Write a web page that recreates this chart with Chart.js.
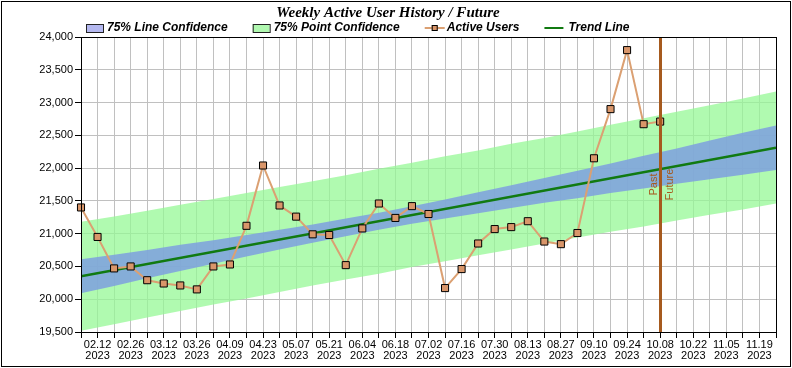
<!DOCTYPE html>
<html>
<head>
<meta charset="utf-8">
<title>Weekly Active User History / Future</title>
<script src="https://cdn.jsdelivr.net/npm/chart.js@4.4.1/dist/chart.umd.min.js"></script>
<style>
  body { margin: 0; background: #fff; }
  #wrap { width: 792px; height: 368px; }
</style>
</head>
<body>
<div id="wrap"><canvas id="usersChart" width="792" height="368"></canvas></div>
<script>
// Week start dates on the x axis (one grid line per week)
const weekDates = [
    '02.05', '02.12', '02.19', '02.26', '03.05', '03.12', '03.19', '03.26',
    '04.02', '04.09', '04.16', '04.23', '04.30', '05.07', '05.14', '05.21',
    '05.28', '06.04', '06.11', '06.18', '06.25', '07.02', '07.09', '07.16',
    '07.23', '07.30', '08.06', '08.13', '08.20', '08.27', '09.03', '09.10',
    '09.17', '09.24', '10.01', '10.08', '10.15', '10.22', '10.29', '11.05',
    '11.12', '11.19', '11.26'
];
const tickYear = '2023';

// Weekly active users (history, 02.05 .. 10.08)
const activeUsers = [
    21400, 20950, 20470, 20500, 20290, 20240, 20210, 20150, 20500, 20530,
    21120, 22040, 21430, 21260, 20990, 20980, 20520, 21080, 21460, 21240,
    21420, 21300, 20170, 20460, 20850, 21070, 21100, 21190, 20880, 20840,
    21010, 22150, 22900, 23800, 22670, 22710
];

// Past / Future divider sits on this week
const nowIndex = 35;

// Trend line end points
const trendWeeks = [0, 42];
const trendValues = [20350, 22310];

// Confidence bands, read every two weeks
const bandWeeks = [0, 2, 4, 6, 8, 10, 12, 14, 16, 18, 20, 22, 24, 26, 28, 30, 32, 34, 36, 38, 40, 42];
const lineConfHigh = [20610, 20680, 20750, 20830, 20900, 20980, 21060, 21140, 21230, 21320, 21420,
                      21520, 21630, 21740, 21850, 21960, 22070, 22190, 22300, 22420, 22540, 22650];
const lineConfLow = [20090, 20200, 20320, 20430, 20540, 20650, 20760, 20860, 20960, 21060, 21150,
                     21230, 21310, 21390, 21470, 21540, 21620, 21690, 21760, 21830, 21900, 21970];
const pointConfHigh = [21180, 21260, 21350, 21440, 21530, 21620, 21710, 21800, 21890, 21990, 22080,
                       22180, 22270, 22370, 22460, 22560, 22660, 22760, 22860, 22960, 23060, 23170];
const pointConfLow = [19520, 19620, 19720, 19820, 19920, 20010, 20110, 20210, 20300, 20390, 20490,
                      20580, 20670, 20760, 20850, 20940, 21030, 21110, 21200, 21290, 21370, 21460];

function toPoints(xs, ys) {
    return xs.map((x, i) => ({ x: x, y: ys[i] }));
}

const FONT = '"Liberation Sans", Arial, sans-serif';

// Legend drawn by hand so it can sit tight under the title
const legendItems = [
    { text: '75% Line Confidence', kind: 'box', fill: '#B4B8F0' },
    { text: '75% Point Confidence', kind: 'box', fill: '#B0F8B0' },
    { text: 'Active Users', kind: 'marker', line: '#DBA072', fill: '#D9966A' },
    { text: 'Trend Line', kind: 'line', line: '#117A11' }
];

const legendPlugin = {
    id: 'handLegend',
    afterDraw(chart) {
        const ctx = chart.ctx;
        let x = chart.chartArea.left + 5;
        const y = 28;
        ctx.save();
        ctx.font = 'italic bold 12px ' + FONT;
        ctx.textBaseline = 'middle';
        legendItems.forEach(item => {
            let w;
            if (item.kind === 'box') {
                ctx.fillStyle = item.fill;
                ctx.fillRect(x, y - 4, 17, 8);
                ctx.strokeStyle = '#222';
                ctx.lineWidth = 1;
                ctx.strokeRect(x + 0.5, y - 3.5, 17, 8);
                w = 21;
            } else if (item.kind === 'marker') {
                ctx.strokeStyle = item.line;
                ctx.lineWidth = 2;
                ctx.beginPath();
                ctx.moveTo(x, y);
                ctx.lineTo(x + 20, y);
                ctx.stroke();
                ctx.fillStyle = item.fill;
                ctx.fillRect(x + 7, y - 3, 6, 6);
                ctx.strokeStyle = '#000';
                ctx.lineWidth = 1;
                ctx.strokeRect(x + 7.5, y - 2.5, 5, 5);
                w = 22;
            } else {
                ctx.strokeStyle = item.line;
                ctx.lineWidth = 2;
                ctx.beginPath();
                ctx.moveTo(x, y);
                ctx.lineTo(x + 19, y);
                ctx.stroke();
                w = 24;
            }
            ctx.fillStyle = '#000';
            ctx.fillText(item.text, x + w, y);
            x += w + ctx.measureText(item.text).width + 25;
        });
        ctx.restore();
    }
};

// Vertical Past / Future marker and the frames
const dividerPlugin = {
    id: 'divider',
    afterDatasetsDraw(chart) {
        const ctx = chart.ctx;
        const area = chart.chartArea;
        const x = Math.round(chart.scales.x.getPixelForValue(nowIndex)) + 0.5;
        const midY = (area.top + area.bottom) / 2;
        ctx.save();
        ctx.strokeStyle = '#A65A1E';
        ctx.lineWidth = 3;
        ctx.beginPath();
        ctx.moveTo(x, area.top);
        ctx.lineTo(x, area.bottom);
        ctx.stroke();

        ctx.fillStyle = '#A65A1E';
        ctx.font = '11px ' + FONT;
        ctx.textAlign = 'center';
        ctx.textBaseline = 'middle';
        ctx.translate(x, midY);
        ctx.rotate(-Math.PI / 2);
        ctx.fillText('Past', 0, -7);
        ctx.fillText('Future', 0, 9);
        ctx.restore();
    },
    afterDraw(chart) {
        const ctx = chart.ctx;
        const a = chart.chartArea;
        ctx.save();
        ctx.strokeStyle = '#000';
        ctx.lineWidth = 1;
        ctx.strokeRect(Math.round(a.left) + 0.5, Math.round(a.top) + 0.5,
            Math.round(a.right - a.left), Math.round(a.bottom - a.top));
        ctx.strokeRect(1.5, 1.5, 789, 365);
        ctx.restore();
    }
};

document.addEventListener('DOMContentLoaded', () => {
    const ctx = document.getElementById('usersChart').getContext('2d');
    new Chart(ctx, {
        type: 'line',
        data: {
            datasets: [
                {
                    label: 'Active Users',
                    data: toPoints(activeUsers.map((v, i) => i), activeUsers),
                    borderColor: '#DBA072',
                    borderWidth: 2,
                    pointStyle: 'rect',
                    pointRadius: 5,
                    pointBackgroundColor: '#D9966A',
                    pointBorderColor: '#000',
                    pointBorderWidth: 1,
                    tension: 0,
                    clip: false,
                },
                {
                    label: 'Trend Line',
                    data: toPoints(trendWeeks, trendValues),
                    borderColor: '#117A11',
                    borderWidth: 2.5,
                    pointRadius: 0,
                },
                {
                    label: '75% Line Confidence',
                    data: toPoints(bandWeeks, lineConfHigh),
                    borderWidth: 0,
                    pointRadius: 0,
                    backgroundColor: 'rgba(124, 156, 226, 0.82)',
                    fill: '+1',
                },
                {
                    label: 'line low',
                    data: toPoints(bandWeeks, lineConfLow),
                    borderWidth: 0,
                    pointRadius: 0,
                    fill: false,
                },
                {
                    label: '75% Point Confidence',
                    data: toPoints(bandWeeks, pointConfHigh),
                    borderWidth: 0,
                    pointRadius: 0,
                    backgroundColor: 'rgba(150, 248, 150, 0.75)',
                    fill: '+1',
                },
                {
                    label: 'point low',
                    data: toPoints(bandWeeks, pointConfLow),
                    borderWidth: 0,
                    pointRadius: 0,
                    fill: false,
                },
            ],
        },
        options: {
            responsive: false,
            animation: false,
            layout: { padding: { left: 0, right: 16, top: 0, bottom: 0 } },
            plugins: {
                legend: { display: false },
                tooltip: { enabled: false },
                title: {
                    display: true,
                    text: 'Weekly Active User History / Future',
                    color: '#000',
                    font: { family: '"Liberation Serif", "Times New Roman", serif', size: 15, style: 'italic', weight: 'bold' },
                    padding: { top: 4, bottom: 15 },
                },
            },
            scales: {
                x: {
                    type: 'linear',
                    min: 0,
                    max: weekDates.length - 1,
                    afterFit(scale) { scale.height = 36; },
                    grid: { color: '#C0C0C0', tickColor: '#000', tickLength: 6 },
                    border: { color: '#000' },
                    ticks: {
                        stepSize: 1,
                        autoSkip: false,
                        maxRotation: 0,
                        padding: 1,
                        color: '#000',
                        font: { family: FONT, size: 11, lineHeight: 1.05 },
                        callback: (v) => (v % 2 === 1 ? [weekDates[v], tickYear] : ''),
                    },
                },
                y: {
                    min: 19500,
                    max: 24000,
                    afterFit(scale) { scale.width = 81; },
                    grid: { color: '#C0C0C0', tickColor: '#000', tickLength: 6 },
                    border: { color: '#000' },
                    ticks: {
                        stepSize: 500,
                        padding: 2,
                        color: '#000',
                        font: { family: FONT, size: 11 },
                        callback: (v) => v.toLocaleString('en-US'),
                    },
                },
            },
        },
        plugins: [legendPlugin, dividerPlugin],
    });
});
</script>
</body>
</html>
